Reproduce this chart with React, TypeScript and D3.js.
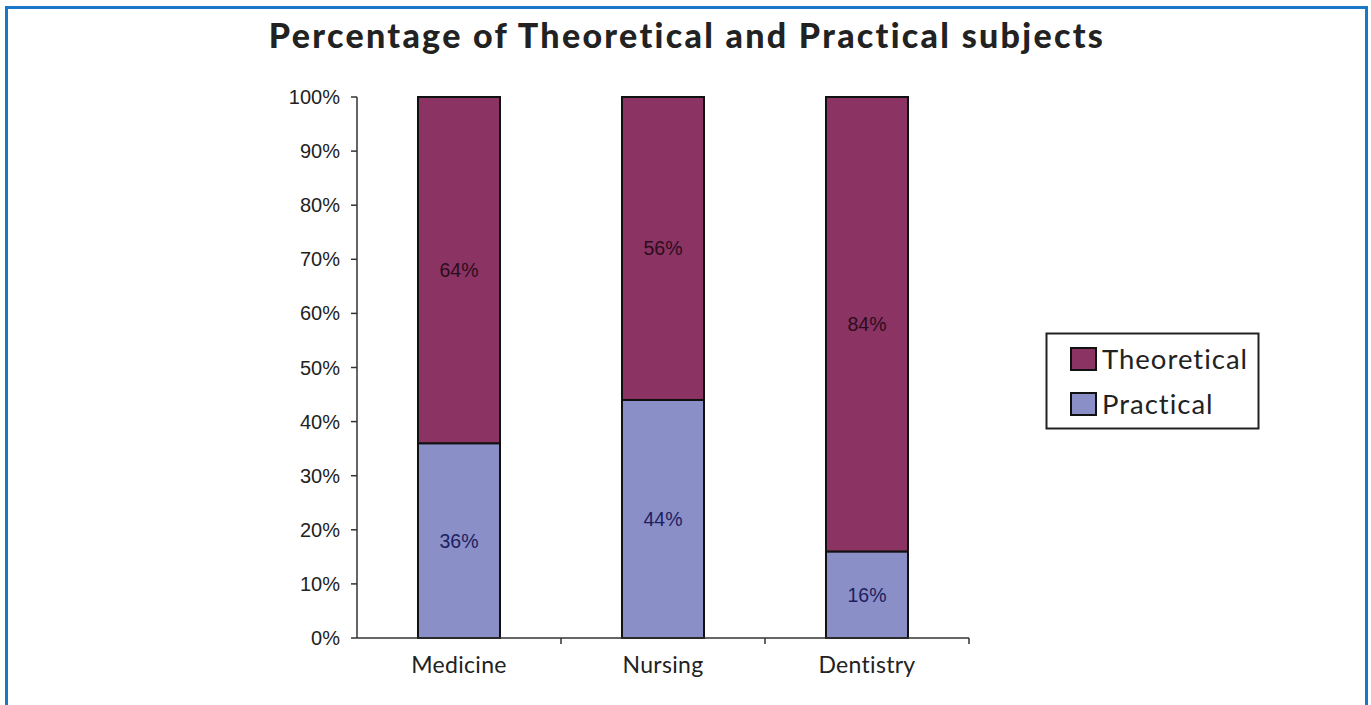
import React from "react";
import * as d3 from "d3";

const categories = ["Medicine", "Nursing", "Dentistry"];
const practical = [36, 44, 16];
const theoretical = [64, 56, 84];
const seriesNames = ["Theoretical", "Practical"];
const yTicks = [0, 10, 20, 30, 40, 50, 60, 70, 80, 90, 100];

const W = 1371, H = 705;
const colors = { Theoretical: "#8b3363", Practical: "#8a8fc8" };

export default function App() {
  const x = d3.scaleBand().domain(categories).range([357, 969]).paddingInner(0.598).paddingOuter(0.299);
  const y = d3.scaleLinear().domain([0, 100]).range([638, 97]);
  const bw = x.bandwidth();
  const rows = categories.map((c, i) => ({ c, Practical: practical[i], Theoretical: theoretical[i] }));
  const stack = d3.stack<any>().keys(["Practical", "Theoretical"])(rows);
  const catTicks = [357 + 204, 357 + 408, 969];
  return (
    <div style={{ position: "fixed", left: 0, top: 0, width: W, height: H, overflow: "hidden" }}>
      <svg width={W} height={H} style={{ display: "block" }}>
        <rect x={0} y={0} width={W} height={H} fill="#fff" />
        <rect x={6.5} y={7.5} width={1360} height={H + 20} fill="none" stroke="#1877c6" strokeWidth={3} />
        <text x={687} y={48} textAnchor="middle" fontFamily="Lato" fontWeight={900} fontSize={34} letterSpacing={2.3} fill="#222">
          Percentage of Theoretical and Practical subjects
        </text>
        {stack.map((s) =>
          s.map((d, i) => (
            <g key={s.key + i}>
              <rect x={x(categories[i])!} y={y(d[1])} width={bw} height={y(d[0]) - y(d[1])}
                fill={(colors as any)[s.key]} stroke="#111" strokeWidth={2} />
              <text x={x(categories[i])! + bw / 2} y={(y(d[0]) + y(d[1])) / 2 + 7} textAnchor="middle"
                fontFamily="Liberation Sans" fontSize={19.5} fill={s.key === "Practical" ? "#1c2060" : "#2a0d1d"}>
                {(d[1] - d[0]) + "%"}
              </text>
            </g>
          ))
        )}
        <line x1={357} x2={357} y1={97} y2={638} stroke="#333" strokeWidth={1.5} />
        <line x1={357} x2={969} y1={638} y2={638} stroke="#333" strokeWidth={1.5} />
        {yTicks.map((t) => (
          <g key={t}>
            <line x1={351} x2={357} y1={y(t)} y2={y(t)} stroke="#333" strokeWidth={1.5} />
            <text x={340} y={y(t) + 7} textAnchor="end" fontFamily="Liberation Sans" fontSize={20} fill="#222">{t + "%"}</text>
          </g>
        ))}
        {catTicks.map((t, i) => (
          <line key={i} x1={t} x2={t} y1={638} y2={644} stroke="#333" strokeWidth={1.5} />
        ))}
        {categories.map((c) => (
          <text key={c} x={x(c)! + bw / 2} y={673} textAnchor="middle" fontFamily="Lato" fontSize={23} letterSpacing={0.3} fill="#222">{c}</text>
        ))}
        <rect x={1046.5} y={333.5} width={212} height={95} fill="#fff" stroke="#222" strokeWidth={2} />
        {seriesNames.map((n, i) => (
          <g key={n}>
            <rect x={1071} y={348 + i * 45} width={25} height={22} fill={(colors as any)[n]} stroke="#111" strokeWidth={2} />
            <text x={1102} y={369 + i * 45} fontFamily="Lato" fontSize={27.5} letterSpacing={1} fill="#222">{n}</text>
          </g>
        ))}
      </svg>
    </div>
  );
}
